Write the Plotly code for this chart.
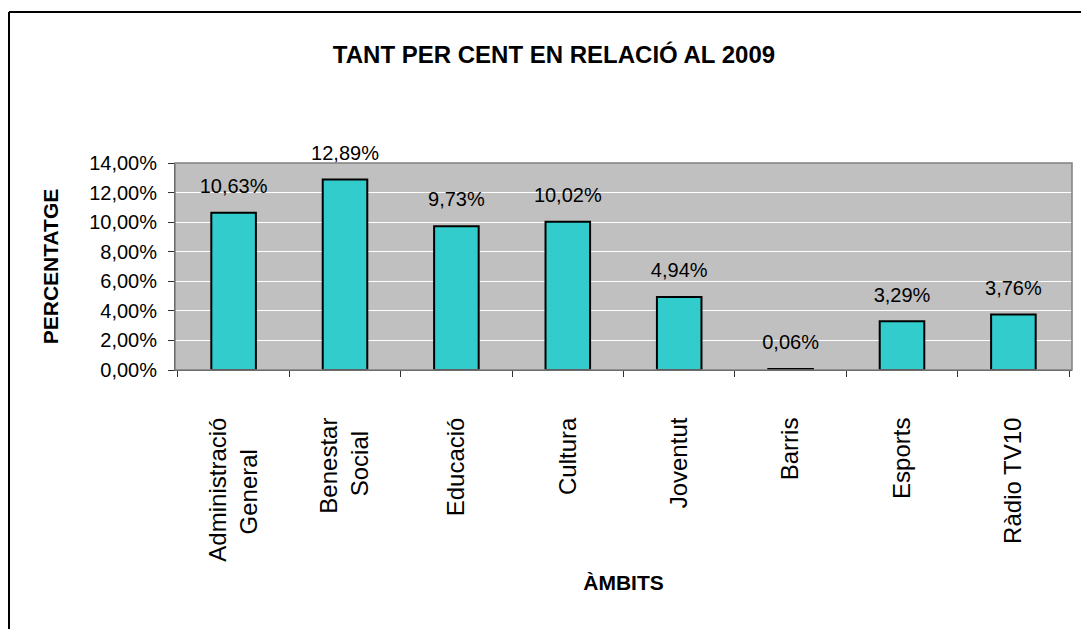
import plotly.graph_objects as go

categories = ["Administració General", "Benestar Social", "Educació", "Cultura",
              "Joventut", "Barris", "Esports", "Ràdio TV10"]
tick_labels = ["Administració<br>General\u00a0\u00a0\u00a0\u00a0\u2009", "Benestar<br>Social\u00a0\u00a0",
               "Educació", "Cultura", "Joventut", "Barris", "Esports", "Ràdio TV10"]
values = [10.63, 12.89, 9.73, 10.02, 4.94, 0.06, 3.29, 3.76]
y_ticks = [0, 2, 4, 6, 8, 10, 12, 14]
title_text = "TANT PER CENT EN RELACIÓ AL 2009"
x_title = "ÀMBITS"
y_title = "PERCENTATGE"

def pct(v):
    return f"{v:.2f}".replace(".", ",") + "%"

FONT = "Arial, Liberation Sans, sans-serif"

# page offset (body margin) and figure size
OFF = 8
W, H = 1089 - OFF, 629 - OFF
# plot area in screen pixels
SL, SR, ST, SB = 175, 1072, 163, 370
L, T = SL - OFF, ST - OFF
R, B = W - (SR - OFF), H - (SB - OFF)
pw, ph = W - L - R, H - T - B

def sx(px):  # screen px -> paper x
    return (px - SL) / pw

def sy(py):  # screen px -> paper y
    return (SB - py) / ph

fig = go.Figure()
fig.add_trace(go.Bar(
    x=categories, y=values, width=0.4,
    marker=dict(color="#33CCCC", line=dict(color="black", width=2)),
    hoverinfo="skip",
))
fig.add_trace(go.Scatter(
    x=categories, y=values, mode="markers+text",
    text=[pct(v) for v in values], textposition="top center",
    marker=dict(size=22, opacity=0),
    textfont=dict(family=FONT, size=20, color="black"),
    cliponaxis=False, hoverinfo="skip",
))

fig.update_layout(
    width=W, height=H,
    margin=dict(l=L, r=R, t=T, b=B, pad=0),
    paper_bgcolor="white", plot_bgcolor="#C0C0C0",
    showlegend=False,
    font=dict(family=FONT, color="black"),
    title=dict(text="<b>" + title_text + "</b>", x=(554 - OFF) / W, xref="container", xanchor="center",
               y=1 - (55 - OFF) / H, yref="container", yanchor="middle",
               font=dict(size=24, family=FONT, color="black")),
    xaxis=dict(
        showgrid=False, showline=True, linecolor="#303030", linewidth=1,
        ticks="outside", ticklen=6, tickcolor="#303030", tickson="boundaries",
        tickmode="array", tickvals=categories, ticktext=tick_labels,
        tickangle=-90, tickfont=dict(size=24, family=FONT, color="black"),
        ticklabelstandoff=37,
        title=dict(text="<b>" + x_title + "</b>", font=dict(size=21, family=FONT), standoff=14),
    ),
    yaxis=dict(
        range=[0, 14], tickmode="array", tickvals=y_ticks, ticktext=[pct(v) for v in y_ticks],
        showgrid=True, gridcolor="white", gridwidth=1,
        showline=True, linecolor="#303030", linewidth=1,
        ticks="outside", ticklen=6, tickcolor="#303030",
        tickfont=dict(size=20, family=FONT, color="black"),
        ticklabelstandoff=7,
        zeroline=False,
        title=dict(text="<b>" + y_title + "</b>", font=dict(size=21, family=FONT), standoff=24),
    ),
    shapes=[
        dict(type="rect", xref="paper", yref="paper", x0=0, x1=1, y0=0, y1=1,
             line=dict(color="#808080", width=1.5), layer="above"),
        dict(type="line", xref="paper", yref="paper",
             x0=sx(9), x1=sx(1120), y0=sy(12), y1=sy(12),
             line=dict(color="black", width=2)),
        dict(type="line", xref="paper", yref="paper",
             x0=sx(9), x1=sx(9), y0=sy(12), y1=sy(660),
             line=dict(color="black", width=2)),
    ],
)

fig.write_html("out.html")
